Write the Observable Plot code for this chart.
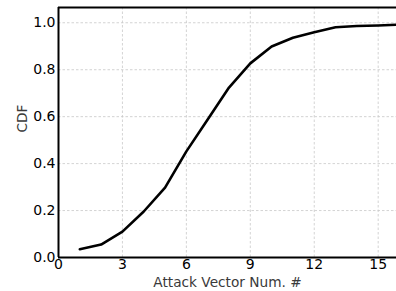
<!DOCTYPE html>
<html>
<head>
<meta charset="utf-8">
<script src="https://cdn.jsdelivr.net/npm/d3@7"></script>
<script src="https://cdn.jsdelivr.net/npm/@observablehq/plot@0.6"></script>
<style>
  html, body { margin: 0; padding: 0; background: #fff; }
  svg { display: block; }
</style>
</head>
<body>
<div id="chart"></div>
<script>
const attackVectors = [1, 2, 3, 4, 5, 6, 7, 8, 9, 10, 11, 12, 13, 14, 15, 16];
const cdfValues = [0.035, 0.055, 0.11, 0.196, 0.298, 0.452, 0.588, 0.724, 0.827, 0.899, 0.936, 0.96, 0.981, 0.986, 0.988, 0.992];
const xTicks = [0, 3, 6, 9, 12, 15];
const yTicks = [0.0, 0.2, 0.4, 0.6, 0.8, 1.0];
const xLabel = "Attack Vector Num. #";
const yLabel = "CDF";

const data = attackVectors.map((x, i) => ({x, y: cdfValues[i]}));
const xDomain = [0, 15.86];
const yDomain = [0, 1.065];

const chart = Plot.plot({
  width: 396,
  height: 291,
  marginLeft: 58,
  marginRight: 0,
  marginTop: 7,
  marginBottom: 34,
  style: {fontFamily: "DejaVu Sans", fontSize: "14px", color: "#000", background: "#fff"},
  x: {domain: xDomain},
  y: {domain: yDomain},
  marks: [
    Plot.gridX(xTicks, {stroke: "#c8c8c8", strokeOpacity: 1, strokeDasharray: "2.5,2", strokeWidth: 0.8}),
    Plot.gridY(yTicks, {stroke: "#c8c8c8", strokeOpacity: 1, strokeDasharray: "2.5,2", strokeWidth: 0.8}),
    Plot.axisX(xTicks, {tickSize: 0, tickPadding: 2, fontSize: 14, fill: "#000", label: null}),
    Plot.axisY(yTicks, {tickSize: 0, tickPadding: 3, fontSize: 14, fill: "#000", label: null, tickFormat: d3.format(".1f")}),
    Plot.ruleY([yDomain[0], yDomain[1]], {stroke: "#000", strokeWidth: 2}),
    Plot.ruleX([xDomain[0]], {stroke: "#000", strokeWidth: 2}),
    Plot.line(data, {x: "x", y: "y", stroke: "#000", strokeWidth: 2.6, strokeLinejoin: "round"}),
    Plot.text([xLabel], {frameAnchor: "bottom", dy: 29, fontSize: 13.7, fill: "#3a3a3a"}),
    Plot.text([yLabel], {frameAnchor: "left", dx: -36, rotate: -90, fontSize: 13.7, fill: "#3a3a3a"})
  ]
});
document.getElementById("chart").appendChild(chart);
</script>
</body>
</html>
